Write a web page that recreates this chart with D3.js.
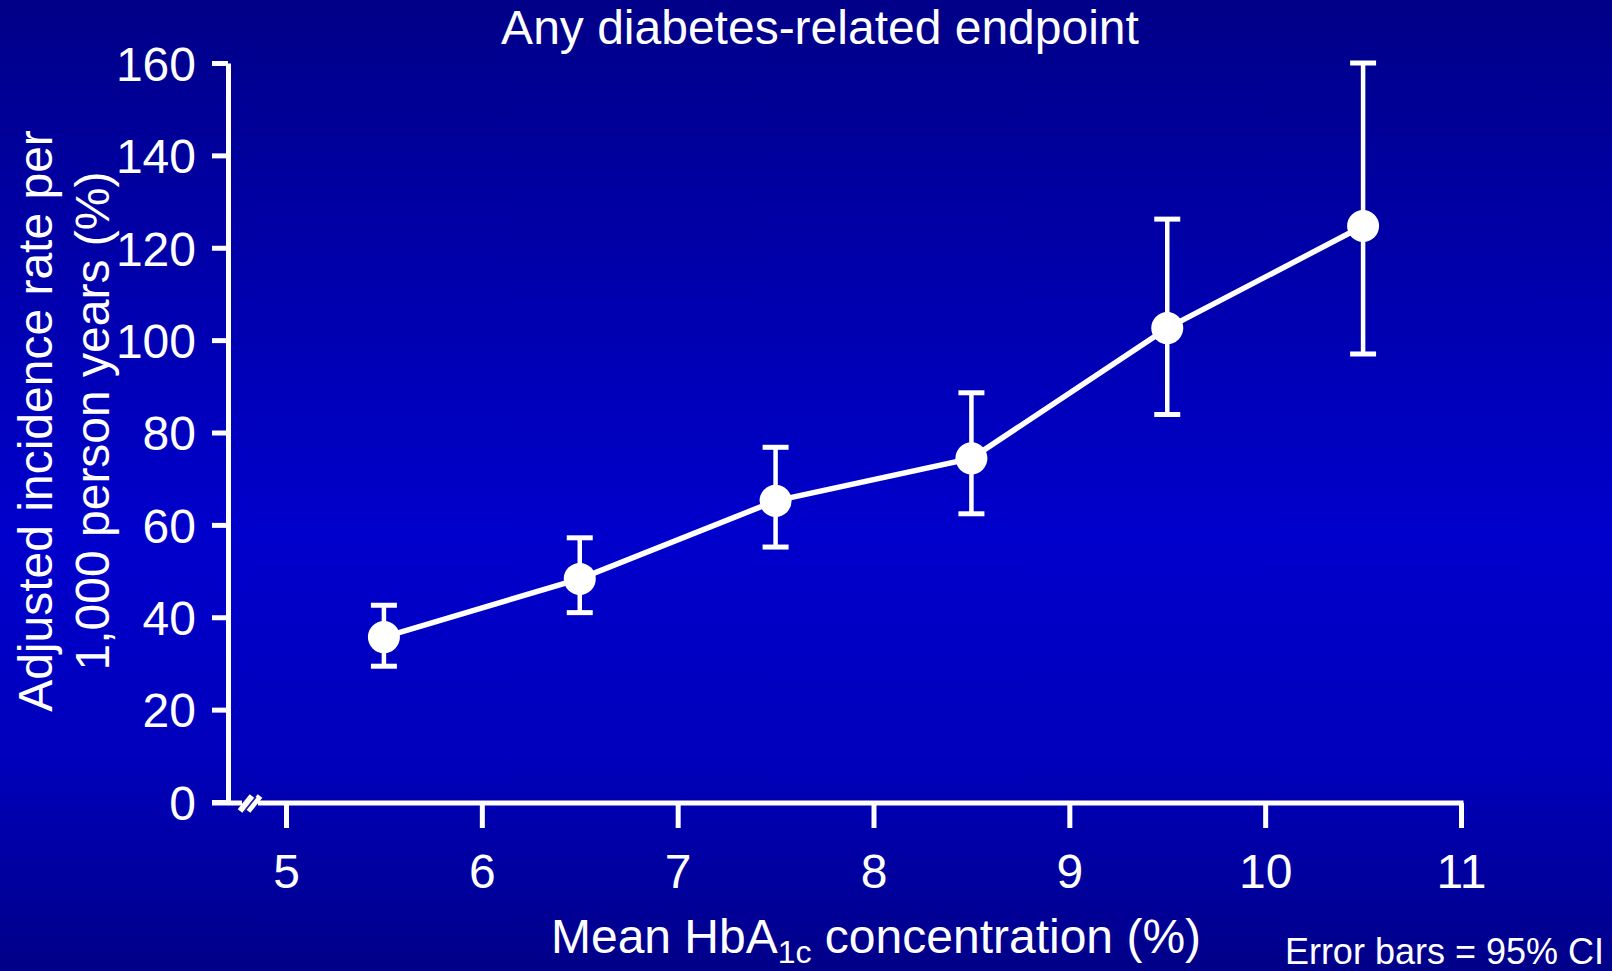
<!DOCTYPE html>
<html>
<head>
<meta charset="utf-8">
<script src="https://cdn.jsdelivr.net/npm/d3@7"></script>
<style>
  html, body { margin: 0; padding: 0; background: #00008c; }
  svg { display: block; }
  text { font-family: "Liberation Sans", Arial, sans-serif; fill: #ffffff; }
</style>
</head>
<body>
<script>
// ---- data ----
const hba1c = [5.5, 6.5, 7.5, 8.5, 9.5, 10.5];
const incidence = [35.7, 48.3, 65.2, 74.4, 102.6, 124.7];
const ciLower = [29.4, 41.0, 55.2, 62.4, 83.9, 97.0];
const ciUpper = [42.6, 57.2, 76.8, 88.6, 126.2, 160.0];
const xTicks = [5, 6, 7, 8, 9, 10, 11];
const yTicks = [0, 20, 40, 60, 80, 100, 120, 140, 160];
const titleText = "Any diabetes-related endpoint";
const yLabelLines = ["Adjusted incidence rate per", "1,000 person years (%)"];
const noteText = "Error bars = 95% CI";

const W = 1612, H = 971;
const axisX = 228;

const svg = d3.select("body").append("svg").attr("width", W).attr("height", H);

// background gradient
const defs = svg.append("defs");
const grad = defs.append("linearGradient").attr("id", "bg")
  .attr("x1", 0).attr("y1", 0).attr("x2", 0).attr("y2", 1);
[[0, "#000088"], [0.55, "#0000cc"], [0.78, "#0000bc"], [1, "#000088"]].forEach(([o, c]) =>
  grad.append("stop").attr("offset", o).attr("stop-color", c));
svg.append("rect").attr("width", W).attr("height", H).attr("fill", "url(#bg)");

const x = d3.scaleLinear().domain([5, 11]).range([286, 1461]);
const y = d3.scaleLinear().domain([0, 160]).range([802, 63]);

// y axis
const yAxis = svg.append("g").attr("transform", `translate(${axisX},0)`)
  .call(d3.axisLeft(y).tickValues(yTicks).tickFormat(d3.format("d")).tickSize(16).tickSizeOuter(0).tickPadding(16));
yAxis.select(".domain").attr("stroke", "#fff").attr("stroke-width", 5);
yAxis.selectAll(".tick line").attr("stroke", "#fff").attr("stroke-width", 5);
yAxis.selectAll(".tick text").attr("font-size", 48).attr("fill", "#fff")
  .attr("font-family", "Liberation Sans, Arial, sans-serif").attr("dy", "0.36em");

// x axis line (from y axis to last tick)
const y0 = y(0) + 1;
svg.append("line").attr("x1", axisX - 16).attr("x2", x(11) + 2.5)
  .attr("y1", y0).attr("y2", y0).attr("stroke", "#fff").attr("stroke-width", 5);

const xAxis = svg.append("g").attr("transform", `translate(0,${y0})`)
  .call(d3.axisBottom(x).tickValues(xTicks).tickFormat(d3.format("d")).tickSize(25).tickSizeOuter(0).tickPadding(26));
xAxis.select(".domain").remove();
xAxis.selectAll(".tick line").attr("stroke", "#fff").attr("stroke-width", 5);
xAxis.selectAll(".tick text").attr("font-size", 48).attr("fill", "#fff")
  .attr("font-family", "Liberation Sans, Arial, sans-serif").attr("dy", "0.71em");

// axis break
const bx = axisX + 22;
svg.append("rect").attr("x", bx - 8).attr("y", y0 - 4).attr("width", 16).attr("height", 8)
  .attr("fill", "#0000b8");
svg.append("line").attr("x1", bx - 10).attr("y1", y0 + 8).attr("x2", bx + 2).attr("y2", y0 - 7)
  .attr("stroke", "#fff").attr("stroke-width", 6);
svg.append("line").attr("x1", bx - 2).attr("y1", y0 + 8).attr("x2", bx + 10).attr("y2", y0 - 7)
  .attr("stroke", "#fff").attr("stroke-width", 6);
svg.append("line").attr("x1", bx - 6).attr("y1", y0 + 9).attr("x2", bx + 6).attr("y2", y0 - 6)
  .attr("stroke", "#2020a0").attr("stroke-width", 1.6);

// error bars
const capW = 13;
const eb = svg.append("g").attr("stroke", "#fff").attr("stroke-width", 4.5);
hba1c.forEach((v, i) => {
  const cx = x(v);
  eb.append("line").attr("x1", cx).attr("x2", cx).attr("y1", y(ciLower[i])).attr("y2", y(ciUpper[i]));
  eb.append("line").attr("x1", cx - capW).attr("x2", cx + capW).attr("y1", y(ciLower[i])).attr("y2", y(ciLower[i])).attr("stroke-width", 5);
  eb.append("line").attr("x1", cx - capW).attr("x2", cx + capW).attr("y1", y(ciUpper[i])).attr("y2", y(ciUpper[i])).attr("stroke-width", 5);
});

// line
const line = d3.line().x((d, i) => x(hba1c[i])).y(d => y(d));
svg.append("path").datum(incidence).attr("d", line)
  .attr("fill", "none").attr("stroke", "#fff").attr("stroke-width", 5.5);

// points
svg.append("g").selectAll("circle").data(incidence).join("circle")
  .attr("cx", (d, i) => x(hba1c[i])).attr("cy", d => y(d)).attr("r", 16).attr("fill", "#fff");

// title
svg.append("text").attr("x", 820).attr("y", 44).attr("text-anchor", "middle")
  .attr("font-size", 48).text(titleText);

// y label
const yl = svg.append("text").attr("transform", "translate(52,421) rotate(-90)")
  .attr("text-anchor", "middle").attr("font-size", 48);
yl.append("tspan").attr("x", 0).attr("y", 0).text(yLabelLines[0]);
yl.append("tspan").attr("x", 0).attr("y", 57).text(yLabelLines[1]);

// x label
const xl = svg.append("text").attr("x", 876).attr("y", 953).attr("text-anchor", "middle")
  .attr("font-size", 48);
xl.append("tspan").text("Mean HbA");
xl.append("tspan").attr("font-size", 32).attr("dy", 10).text("1c");
xl.append("tspan").attr("dy", -10).text(" concentration (%)");

// note
svg.append("text").attr("x", 1604).attr("y", 964).attr("text-anchor", "end")
  .attr("font-size", 36).text(noteText);
</script>
</body>
</html>
